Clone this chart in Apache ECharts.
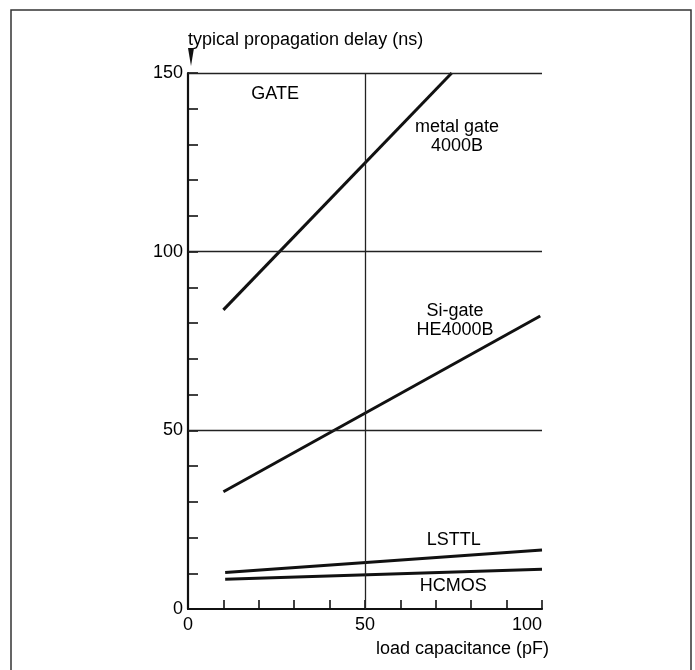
<!DOCTYPE html>
<html>
<head>
<meta charset="utf-8">
<script src="https://cdn.jsdelivr.net/npm/echarts@6/dist/echarts.min.js"></script>
<style>
html,body{margin:0;padding:0;background:#fff;}
#chart{width:695px;height:670px;}
</style>
</head>
<body>
<div id="chart"></div>
<script>
// ---- data (load capacitance pF -> typical propagation delay ns) ----
var metalGate4000B = [[10, 83.7], [74.5, 150]];
var siGateHE4000B  = [[10, 32.8], [99.5, 82.0]];
var lsttl          = [[10.5, 10.2], [100, 16.5]];
var hcmos          = [[10.5, 8.3], [100, 11.1]];

var xLabelValues = [0, 50, 100];
var yLabelValues = [0, 50, 100, 150];
var gridXValues = [50];
var gridYValues = [50, 100, 150];

var annotations = [
  {name: 'GATE', value: [24.6, 143.9]},
  {name: 'metal gate\n4000B', value: [76.0, 132.1]},
  {name: 'Si-gate\nHE4000B', value: [75.4, 80.6]},
  {name: 'LSTTL', value: [75.1, 19.3]},
  {name: 'HCMOS', value: [74.9, 6.2]}
];

var FONT = '"Liberation Sans", Arial, sans-serif';
var INK = '#111';

var chart = echarts.init(document.getElementById('chart'), null, {renderer: 'canvas'});

function lineSeries(name, data) {
  return {
    name: name, type: 'line', data: data, showSymbol: false, symbol: 'none',
    lineStyle: {color: INK, width: 3}, silent: true, z: 3
  };
}

var markData = [];
gridXValues.forEach(function (v) { markData.push({xAxis: v}); });
gridYValues.forEach(function (v) { markData.push({yAxis: v}); });

var series = [
  lineSeries('metal gate 4000B', metalGate4000B),
  lineSeries('Si-gate HE4000B', siGateHE4000B),
  lineSeries('LSTTL', lsttl),
  lineSeries('HCMOS', hcmos),
  {
    name: 'annotations', type: 'scatter', data: annotations,
    symbol: 'circle', symbolSize: 1, itemStyle: {color: '#fff', opacity: 0},
    silent: true, z: 4,
    label: {
      show: true, position: 'top', distance: 0,
      formatter: function (p) { return p.name; },
      color: '#000', opacity: 1, textBorderWidth: 0, textBorderColor: 'transparent',
      fontFamily: FONT, fontSize: 18, lineHeight: 19, align: 'center', verticalAlign: 'middle'
    },
    markLine: {
      silent: true, symbol: ['none', 'none'], label: {show: false},
      lineStyle: {color: '#222', width: 1.3, type: 'solid', opacity: 1},
      data: markData, animation: false
    }
  }
];

chart.setOption({
  animation: false,
  backgroundColor: '#fff',
  grid: {left: 188, right: 153, top: 73, bottom: 61, containLabel: false, outerBoundsMode: 'none'},
  title: {
    text: 'load capacitance (pF)', right: 146, top: 640,
    textStyle: {fontFamily: FONT, fontSize: 18, color: '#000', fontWeight: 'normal'},
    padding: 0
  },
  xAxis: {
    type: 'value', min: 0, max: 100, interval: 10,
    axisLine: {show: true, lineStyle: {color: INK, width: 2.2}},
    axisTick: {show: true, inside: true, length: 9, lineStyle: {color: INK, width: 1.6}},
    axisLabel: {
      fontFamily: FONT, fontSize: 18, color: '#000', margin: 7, alignMaxLabel: 'right',
      formatter: function (v) { return xLabelValues.indexOf(v) >= 0 ? String(v) : ''; }
    },
    splitLine: {show: false}
  },
  yAxis: {
    type: 'value', min: 0, max: 150, interval: 10,
    name: 'typical propagation delay (ns)', nameLocation: 'end', nameGap: 33,
    nameTextStyle: {fontFamily: FONT, fontSize: 18, color: '#000', align: 'left', verticalAlign: 'middle'},
    axisLine: {show: true, lineStyle: {color: INK, width: 2.2}},
    axisTick: {show: true, inside: true, length: 10, lineStyle: {color: INK, width: 1.6}},
    axisLabel: {
      fontFamily: FONT, fontSize: 18, color: '#000', margin: 5,
      formatter: function (v) { return yLabelValues.indexOf(v) >= 0 ? String(v) : ''; }
    },
    splitLine: {show: false}
  },
  graphic: [
    {type: 'rect', silent: true, shape: {x: 11, y: 10, width: 680, height: 690},
     style: {fill: 'none', stroke: '#333', lineWidth: 1.5}},
    {type: 'polygon', silent: true, shape: {points: [[188, 48], [194, 48], [191, 66]]},
     style: {fill: INK}}
  ],
  series: series
});
</script>
</body>
</html>
